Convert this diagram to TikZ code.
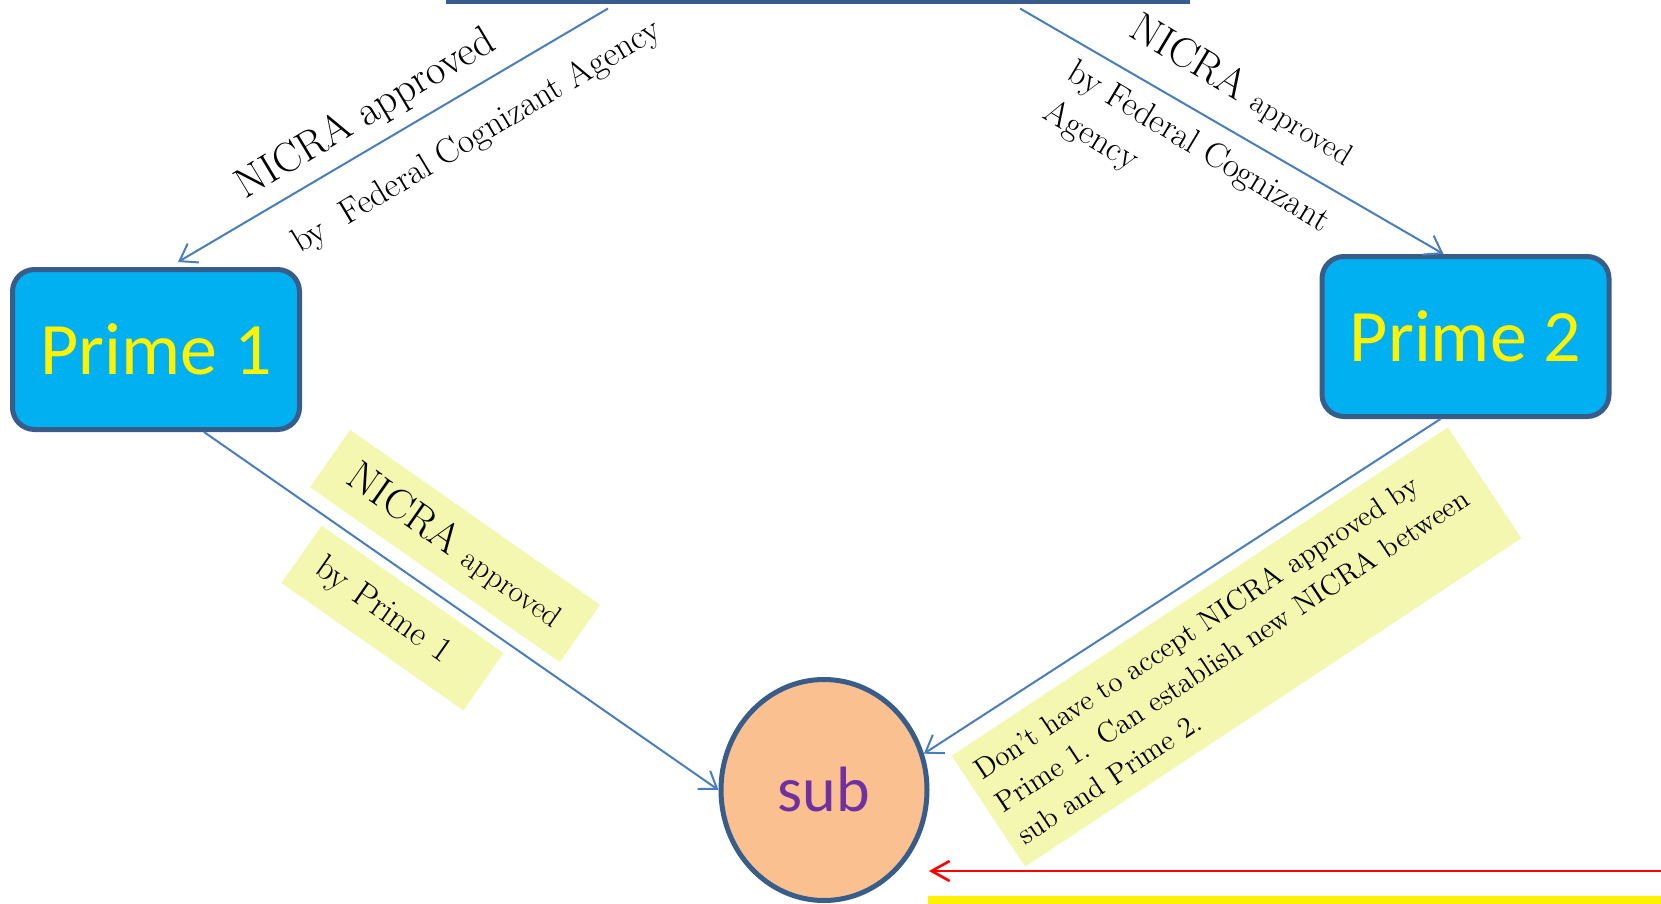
\documentclass[tikz,border=0pt]{standalone}
\usepackage{fontspec}
\newfontfamily\calibri{Carlito}
\usepackage{tikz}
\usetikzlibrary{arrows.meta, shapes.geometric}

\definecolor{boxblue}{HTML}{00B0F0}
\definecolor{edgeblue}{HTML}{385D8A}
\definecolor{lineblue}{HTML}{4A7EBB}
\definecolor{subfill}{HTML}{FAC090}
\definecolor{subtext}{HTML}{7030A0}
\definecolor{notefill}{HTML}{F3F7B0}

\begin{document}
\begin{tikzpicture}[x=0.5pt, y=-0.5pt,
    prime/.style={draw=edgeblue, line width=2.5pt, fill=boxblue, rounded corners=11pt,
        minimum width=143.5pt, minimum height=80pt, text=yellow,
        font=\calibri\fontsize{37}{44}\selectfont},
    subnode/.style={ellipse, draw=edgeblue, line width=2.5pt, fill=subfill,
        minimum width=103pt, minimum height=110.5pt, inner sep=0pt, text=subtext,
        font=\calibri\fontsize{32}{38}\selectfont},
    conn/.style={draw=lineblue, line width=1pt, -{Straight Barb[length=8pt, width=11pt]}},
    note/.style={fill=notefill, inner ysep=0pt},
    lbl/.style={inner sep=0pt, anchor=base west},
    bigfont/.style={font=\fontsize{21}{25}\selectfont},
    midfont/.style={font=\fontsize{17.5}{23}\selectfont}]
    \useasboundingbox (0,0) rectangle (1661,904);

    % Agency box (only its lower edge shows)
    \node[draw=edgeblue, line width=2pt, minimum width=370pt, minimum height=40pt,
        anchor=south] (agency) at (818,4.5) {};

    % Primes and sub
    \node[prime] (p1) at (156,349.5) {Prime 1};
    \node[prime] (p2) at (1465.5,336.5) {Prime 2};
    \node[subnode] (sub) at (824,790) {sub};

    % Labels of the upper arrows
    \node[lbl, bigfont, rotate=31] (l1) at (245,200) {NICRA approved};
    \node[lbl, midfont, rotate=31] (l2) at (300,254) {by\ \ Federal Cognizant Agency};
    \node[lbl, rotate=-31] (l3) at (1127,35)
        {\fontsize{21}{25}\selectfont NICRA \fontsize{15.5}{18}\selectfont approved};
    \node[inner sep=0pt, anchor=north west, align=left, midfont, rotate=-31] (l4)
        at (1078,57) {by Federal Cognizant\\Agency};

    % Yellow notes
    \node[note, rotate=-35, minimum width=152.5pt, minimum height=35pt] (n1) at (455,546)
        {\fontsize{21}{25}\selectfont NICRA \fontsize{15.5}{18}\selectfont approved};
    \node[note, midfont, rotate=-35, text width=91pt, inner xsep=10pt, align=left,
        minimum height=35pt] (n2) at (392.5,618) {by Prime 1};
    \node[note, rotate=33.5, text width=286pt, inner xsep=5.75pt, align=left,
        minimum height=66.5pt, font=\fontsize{14.5}{19.5}\selectfont] (n3) at (1236.5,647)
        {Don’t have to accept NICRA approved by\\Prime 1. Can establish new NICRA between\\sub and Prime 2.};

    % Arrows
    \draw[conn] ([xshift=-105pt, yshift=-2pt]agency.south) -- ([xshift=11pt, yshift=2.5pt]p1.north);
    \draw[conn] ([xshift=101pt, yshift=-2pt]agency.south) -- ([xshift=-11pt]p2.north);
    \draw[conn] ([xshift=24pt]p1.south) -- (sub.west);
    \draw[conn] ([xshift=-12.5pt]p2.south) -- (sub.20);

    % Red arrow and yellow bar at the bottom
    \coordinate (redstart) at (1675,871);
    \coordinate (redend) at (929,871);
    \draw[red, line width=1.3pt, -{Straight Barb[length=9pt, width=10pt]}] (redstart) -- (redend);
    \fill[yellow] (928,896) rectangle (1670,910);
\end{tikzpicture}
\end{document}
